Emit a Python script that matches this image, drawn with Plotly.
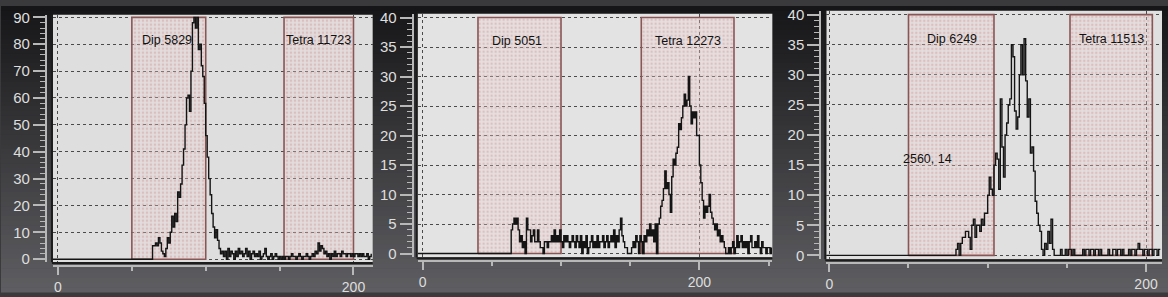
import plotly.graph_objects as go

W, H = 1168, 297

# ---------------- data ----------------
# Panel 1 histogram (counts per channel, starting at p1_start)
p1_start = 64
p1_counts = [5, 5, 6, 5, 8, 6, 3, 2, 1, 4, 8, 6,
             10, 16, 12, 17, 14, 25, 23, 28, 35, 41, 50, 60,
             61, 55, 70, 88, 90, 86, 90, 78, 80, 72, 68, 58,
             46, 38, 30, 24, 17, 12, 8, 11, 7, 4, 2, 3,
             1, 3, 0, 4, 1, 3, 2, 0, 3, 1, 4, 2,
             3, 1, 2, 4, 1, 3, 0, 2, 3, 1, 2, 1,
             3, 0, 1, 2, 4, 1, 0, 1, 2, 0, 1, 2,
             1, 0, 1, 0, 1, 0, 1, 1, 0, 1, 2, 1,
             1, 0, 1, 2, 1, 0, 1, 1, 2, 1, 0, 1,
             2, 1, 3, 2, 6, 3, 5, 4, 2, 3, 1, 2,
             0, 2, 1, 3, 1, 2, 2, 1, 3, 2, 2, 1,
             2, 2, 1, 2, 1, 2, 2, 1, 2, 1, 2, 1,
             1, 2, 0, 1, 2]
p1_gate_lo = [50, 153]
p1_gate_hi = [100, 200]
p1_gate_labels = ["Dip 5829", "Tetra 11723"]
p1_label_x = [74, 176]
p1_label_y = [81.5, 81.5]
p1_yticks = [0, 10, 20, 30, 40, 50, 60, 70, 80, 90]

# Panel 2 histogram
p2_start = 64
p2_counts = [4, 5, 6, 5, 6, 4, 2, 3, 1, 2, 0, 6,
             4, 4, 2, 3, 4, 2, 2, 4, 2, 1, 1, 0,
             2, 2, 1, 2, 2, 3, 2, 4, 2, 3, 2, 4,
             2, 1, 3, 2, 3, 2, 1, 2, 3, 2, 1, 3,
             2, 1, 3, 0, 2, 1, 3, 0, 1, 2, 3, 1,
             2, 1, 3, 1, 2, 2, 3, 1, 2, 3, 1, 2,
             3, 2, 4, 1, 3, 2, 4, 6, 3, 2, 1, 1,
             0, 0, 0, 1, 2, 1, 3, 2, 0, 3, 2, 0,
             3, 2, 4, 3, 5, 3, 4, 2, 5, 0, 5, 6,
             8, 9, 11, 14, 11, 12, 10, 7, 13, 16, 15, 17,
             18, 22, 21, 23, 25, 27, 25, 26, 30, 25, 22, 24,
             23, 24, 20, 20, 15, 12, 9, 6, 8, 7, 8, 10,
             7, 6, 5, 4, 5, 3, 4, 2, 3, 2, 1, 0,
             0, 1, 0, 1, 2, 0, 1, 3, 1, 2, 3, 1,
             2, 1, 2, 0, 2, 3, 1, 1, 2, 1, 3, 1,
             0, 2, 1, 1, 0, 1, 1, 0, 1]
p2_gate_lo = [40, 158]
p2_gate_hi = [100, 225]
p2_gate_labels = ["Dip 5051", "Tetra 12273"]
p2_label_x = [68, 191.5]
p2_label_y = [36, 36]
p2_yticks = [0, 5, 10, 15, 20, 25, 30, 35, 40]

# Panel 3 histogram
p3_start = 80
p3_counts = [1, 2, 0, 2, 3, 3, 4, 4, 3, 1, 5, 6,
             3, 5, 5, 4, 6, 5, 7, 7, 10, 13, 11, 10,
             15, 17, 16, 11, 26, 18, 13, 20, 22, 25, 26, 35,
             33, 24, 21, 23, 30, 35, 30, 36, 29, 23, 26, 17,
             18, 14, 9, 7, 5, 4, 1, 0, 2, 1, 4, 2,
             6, 1, 0, 0, 0, 0, 1, 0, 0, 1, 0, 1,
             1, 0, 1, 0, 0, 0, 0, 0, 1, 0, 1, 1,
             0, 1, 1, 0, 1, 1, 0, 1, 0, 0, 0, 0,
             1, 0, 0, 1, 1, 0, 1, 1, 0, 1, 0, 0,
             0, 1, 0, 1, 1, 0, 1, 2, 1, 1, 0, 1,
             1, 0, 1, 1, 0, 1, 1, 0, 1, 1]
p3_gate_lo = [50, 152]
p3_gate_hi = [104, 204]
p3_gate_labels = ["Dip 6249", "Tetra 11513"]
p3_label_x = [77.5, 178]
p3_label_y = [36, 36]
p3_yticks = [0, 5, 10, 15, 20, 25, 30, 35, 40]
p3_cursor_text = "2560, 14"
p3_cursor_x = 62
p3_cursor_y = 16

x_tickvals = [0, 200]

# ---------------- geometry (pixels) ----------------
panels = [
    dict(start=p1_start, counts=p1_counts, glo=p1_gate_lo, ghi=p1_gate_hi,
         glab=p1_gate_labels, lx=p1_label_x, ly=p1_label_y, yt=p1_yticks,
         ymax=90, ydminor=2, xminor=[50, 100, 150],
         plot=(52, 372, 9, 266), xr=(-3.4, 213), yr=(-1.1, 91),
         yline=45, xline=270, bg="#dedede"),
    dict(start=p2_start, counts=p2_counts, glo=p2_gate_lo, ghi=p2_gate_hi,
         glab=p2_gate_labels, lx=p2_label_x, ly=p2_label_y, yt=p2_yticks,
         ymax=40, ydminor=1, xminor=[50, 100, 150, 250],
         plot=(417, 772, 8, 261), xr=(-3.6, 252.7), yr=(-0.65, 40.65),
         yline=412, xline=265, bg="#e3e3e3"),
    dict(start=p3_start, counts=p3_counts, glo=p3_gate_lo, ghi=p3_gate_hi,
         glab=p3_gate_labels, lx=p3_label_x, ly=p3_label_y, yt=p3_yticks,
         ymax=40, ydminor=1, xminor=[50, 100, 150],
         plot=(826, 1162, 5, 263), xr=(-1.9, 210.1), yr=(-0.64, 40.64),
         yline=820, xline=267, bg="#e0e0e0"),
]

FONT = "Liberation Sans, Arial, sans-serif"
AXC = "#b8b8b8"

fig = go.Figure()
shapes = []

# dark vertical gradient background
nb = 60
c0 = (22, 22, 24)
c1 = (94, 94, 98)
for i in range(nb):
    t = i / (nb - 1)
    col = "rgb(%d,%d,%d)" % tuple(round(a + (b - a) * t) for a, b in zip(c0, c1))
    shapes.append(dict(type="rect", xref="paper", yref="paper", layer="below",
                       x0=0, x1=1, y0=1 - (i + 1) / nb - 0.002, y1=1 - i / nb,
                       fillcolor=col, line=dict(width=0)))

annotations = []
for k, p in enumerate(panels):
    n = "" if k == 0 else str(k + 1)
    xa, ya = "x" + n, "y" + n
    L, R, T, B = p["plot"]
    dx = [L / W, R / W]
    dy = [1 - B / H, 1 - T / H]
    # plot area background
    shapes.append(dict(type="rect", xref="paper", yref="paper", layer="below",
                       x0=dx[0], x1=dx[1], y0=dy[0], y1=dy[1],
                       fillcolor=p["bg"], line=dict(width=0)))
    # dark border left and bottom
    shapes.append(dict(type="line", xref="paper", yref="paper", layer="below",
                       x0=(L - 1) / W, x1=(L - 1) / W, y0=dy[0], y1=dy[1],
                       line=dict(color="#1c1c1c", width=2)))
    shapes.append(dict(type="line", xref="paper", yref="paper", layer="below",
                       x0=(L - 1) / W, x1=dx[1], y0=1 - (B + 1) / H, y1=1 - (B + 1) / H,
                       line=dict(color="#1c1c1c", width=2)))

    # gates
    for lo, hi in zip(p["glo"], p["ghi"]):
        fig.add_trace(go.Scatter(
            x=[lo, lo, hi, hi, lo], y=[0, p["ymax"], p["ymax"], 0, 0],
            xaxis=xa, yaxis=ya, mode="lines", fill="toself",
            fillcolor="rgba(236,218,218,0.4)",
            fillpattern=dict(shape=".", fgcolor="rgba(205,120,120,0.6)",
                             bgcolor="rgba(236,218,218,0.3)", size=4, solidity=0.3),
            line=dict(color="#8a5555", width=1.6),
            hoverinfo="skip", showlegend=False))

    # histogram
    xs = [p["xr"][0]] + [p["start"] + i for i in range(len(p["counts"]))]
    ys = [0] + p["counts"]
    fig.add_trace(go.Scatter(x=xs, y=ys, xaxis=xa, yaxis=ya, mode="lines",
                             line=dict(color="#141414", width=1.4, shape="hv"),
                             showlegend=False, hoverinfo="skip"))

    for txt, tx, ty in zip(p["glab"], p["lx"], p["ly"]):
        annotations.append(dict(x=tx, y=ty, xref=xa, yref=ya, text=txt, showarrow=False,
                                font=dict(family=FONT, size=12.5, color="#111")))

    fig.layout["xaxis" + n] = dict(
        domain=dx, range=list(p["xr"]), anchor="free", position=1 - p["xline"] / H,
        tickmode="array", tickvals=x_tickvals, ticktext=[str(v) for v in x_tickvals],
        ticks="outside", ticklen=8, tickwidth=1.5, tickcolor=AXC,
        showline=True, linecolor=AXC, linewidth=2,
        showgrid=True, gridcolor="#4a4a4a", griddash="dot", gridwidth=1,
        zeroline=False, fixedrange=True,
        tickfont=dict(family=FONT, size=14, color="#dedede"),
        minor=dict(tickmode="array", tickvals=p["xminor"], ticks="outside",
                   ticklen=4, tickcolor=AXC, tickwidth=1.5, showgrid=False))
    fig.layout["yaxis" + n] = dict(
        domain=dy, range=list(p["yr"]), anchor="free", position=p["yline"] / W,
        tickmode="array", tickvals=p["yt"], ticktext=[str(v) for v in p["yt"]],
        ticks="outside", ticklen=12, tickwidth=1.5, tickcolor=AXC,
        showline=True, linecolor=AXC, linewidth=2,
        showgrid=True, gridcolor="#4a4a4a", griddash="dot", gridwidth=1,
        zeroline=False, fixedrange=True,
        tickfont=dict(family=FONT, size=15, color="#dedede"),
        minor=dict(dtick=p["ydminor"], ticks="outside", ticklen=5,
                   tickcolor=AXC, tickwidth=1, showgrid=False))

annotations.append(dict(x=p3_cursor_x, y=p3_cursor_y, xref="x3", yref="y3",
                        text=p3_cursor_text, showarrow=False,
                        font=dict(family=FONT, size=12.5, color="#111")))

fig.update_layout(width=W, height=H, margin=dict(l=0, r=0, t=0, b=0),
                  paper_bgcolor="#3a3a3c", plot_bgcolor="rgba(0,0,0,0)",
                  shapes=shapes, annotations=annotations,
                  font=dict(family=FONT))

fig.write_html("out.html",
               config={"displayModeBar": False},
               post_script="document.body.style.margin='0';"
                           "document.body.style.overflow='hidden';"
                           "document.body.style.background='#3a3a3c';")
